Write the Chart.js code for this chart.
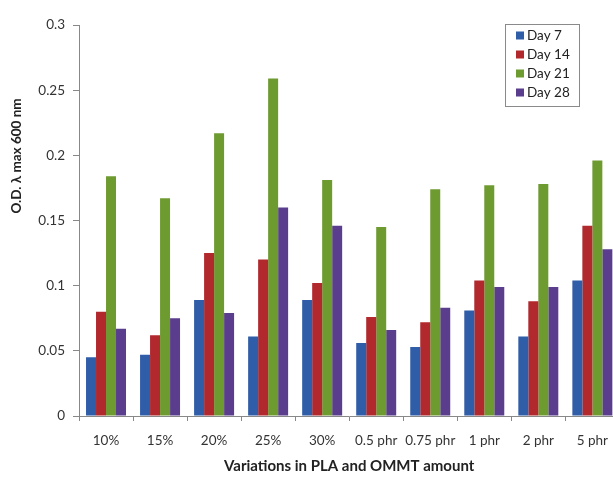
<!DOCTYPE html>
<html>
<head>
<meta charset="utf-8">
<script src="https://cdn.jsdelivr.net/npm/chart.js@4/dist/chart.umd.min.js"></script>
<style>
  html, body { margin: 0; padding: 0; background: #fff; overflow: hidden; }
  #wrap { position: relative; width: 620px; height: 477px; }
</style>
</head>
<body>
<div id="wrap"><canvas id="c"></canvas></div>
<script>
const categories = ['10%', '15%', '20%', '25%', '30%', '0.5 phr', '0.75 phr', '1 phr', '2 phr', '5 phr'];
const seriesNames = ['Day 7', 'Day 14', 'Day 21', 'Day 28'];
const day7  = [0.045, 0.047, 0.089, 0.061, 0.089, 0.056, 0.053, 0.081, 0.061, 0.104];
const day14 = [0.080, 0.062, 0.125, 0.120, 0.102, 0.076, 0.072, 0.104, 0.088, 0.146];
const day21 = [0.184, 0.167, 0.217, 0.259, 0.181, 0.145, 0.174, 0.177, 0.178, 0.196];
const day28 = [0.067, 0.075, 0.079, 0.160, 0.146, 0.066, 0.083, 0.099, 0.099, 0.128];
const yTicks = [0, 0.05, 0.1, 0.15, 0.2, 0.25, 0.3];
const colors = ['#2F5DA8', '#B1282D', '#6E9B30', '#5B3D8E'];
const yTitle = 'O.D. λ max 600 nm';
const xTitle = 'Variations in PLA and OMMT amount';

const FONT = 'Lato, "Liberation Sans", sans-serif';

const legendPlugin = {
  id: 'boxLegend',
  afterDraw(chart) {
    const ctx = chart.ctx;
    const x0 = 505, y0 = 24, w = 74, h = 82;
    ctx.save();
    ctx.fillStyle = '#fff';
    ctx.fillRect(x0, y0, w, h);
    ctx.strokeStyle = '#8a8a8a';
    ctx.lineWidth = 1;
    ctx.strokeRect(x0 + 0.5, y0 + 0.5, w, h);
    ctx.font = '13.5px ' + FONT;
    ctx.textBaseline = 'middle';
    ctx.textAlign = 'left';
    chart.data.datasets.forEach((ds, i) => {
      const cy = 35.5 + i * 19;
      ctx.fillStyle = ds.backgroundColor;
      ctx.fillRect(516, cy - 4, 8, 8);
      ctx.fillStyle = '#222';
      ctx.fillText(ds.label, 527, cy + 0.5);
    });
    ctx.restore();
  }
};

const yTitlePlugin = {
  id: 'yTitle',
  afterDraw(chart) {
    const ctx = chart.ctx;
    ctx.save();
    ctx.translate(17, 156);
    ctx.rotate(-Math.PI / 2);
    ctx.font = 'bold 13.5px ' + FONT;
    ctx.fillStyle = '#222';
    ctx.textAlign = 'center';
    ctx.textBaseline = 'middle';
    ctx.fillText(yTitle, 0, 0);
    ctx.restore();
  }
};

const seriesData = [day7, day14, day21, day28];

new Chart(document.getElementById('c'), {
  type: 'bar',
  data: {
    labels: categories,
    datasets: seriesNames.map((n, i) => ({
      label: n,
      data: seriesData[i],
      backgroundColor: colors[i],
      borderWidth: 0,
      barPercentage: 1.0,
      categoryPercentage: 0.74
    }))
  },
  options: {
    responsive: true,
    maintainAspectRatio: false,
    animation: false,
    layout: { padding: { top: 25, left: 0, right: 0, bottom: 0 } },
    plugins: {
      legend: { display: false },
      tooltip: { enabled: false }
    },
    scales: {
      x: {
        offset: true,
        grid: { display: true, drawOnChartArea: false, drawTicks: true, tickLength: 5, color: '#888', offset: true },
        border: { display: true, color: '#888', width: 1 },
        ticks: { font: { family: FONT, size: 13.5 }, color: '#333', padding: 12, maxRotation: 0, autoSkip: false },
        title: { display: true, text: xTitle, font: { family: FONT, size: 15, weight: 'bold' }, color: '#222', padding: { top: 0, bottom: 2 } },
        afterFit(scale) { scale.height = 61; }
      },
      y: {
        min: 0,
        max: 0.3,
        afterBuildTicks(scale) { scale.ticks = yTicks.map(v => ({ value: v })); },
        grid: { display: true, drawOnChartArea: false, drawTicks: true, tickLength: 6, color: '#888' },
        border: { display: true, color: '#888', width: 1 },
        ticks: { font: { family: FONT, size: 13.5 }, color: '#333', padding: 8,
                 callback: v => String(v) },
        afterFit(scale) { scale.width = 79; }
      }
    }
  },
  plugins: [legendPlugin, yTitlePlugin]
});
</script>
</body>
</html>
